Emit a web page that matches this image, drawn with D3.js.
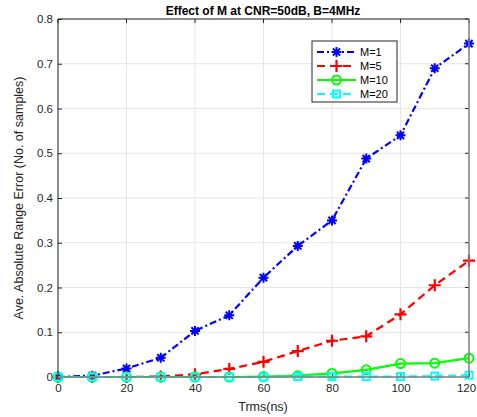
<!DOCTYPE html>
<html>
<head>
<meta charset="utf-8">
<script src="https://cdn.jsdelivr.net/npm/d3@7"></script>
<style>
  body { margin: 0; background: #fff; }
  text { font-family: "Liberation Sans", Arial, sans-serif; }
</style>
</head>
<body>
<svg id="c" width="477" height="417"></svg>
<script>
const trms = [0, 10, 20, 30, 40, 50, 60, 70, 80, 90, 100, 110, 120];
const m1  = [0, 0.003, 0.019, 0.043, 0.103, 0.138, 0.222, 0.293, 0.35, 0.488, 0.54, 0.69, 0.745];
const m5  = [0, 0, 0, 0.001, 0.006, 0.018, 0.034, 0.058, 0.081, 0.091, 0.14, 0.205, 0.26];
const m10 = [0, 0, 0, 0, 0, 0, 0.001, 0.003, 0.008, 0.016, 0.03, 0.031, 0.042];
const m20 = [0, 0, 0, 0, 0, 0, 0, 0.001, 0.001, 0.001, 0.001, 0.002, 0.004];
const xTicks = [0, 20, 40, 60, 80, 100, 120];
const yTicks = [0, 0.1, 0.2, 0.3, 0.4, 0.5, 0.6, 0.7, 0.8];

const series = [
  { name: "M=1",  values: m1,  color: "#0000ff", dash: "7,3,2,3", marker: "star" },
  { name: "M=5",  values: m5,  color: "#ff0000", dash: "8,5",     marker: "plus" },
  { name: "M=10", values: m10, color: "#00ff00", dash: null,      marker: "circle" },
  { name: "M=20", values: m20, color: "#00ffff", dash: "8,5",     marker: "square" }
];

const svg = d3.select("#c");
const L = 58, R = 469, T = 19, B = 377;

const x = d3.scaleLinear().domain([0, 120]).range([L, R]);
const y = d3.scaleLinear().domain([0, 0.8]).range([B, T]);

// grid
svg.append("g").selectAll("line").data(xTicks).join("line")
  .attr("x1", d => x(d)).attr("x2", d => x(d)).attr("y1", T).attr("y2", B)
  .attr("stroke", "#e6e6e6");
svg.append("g").selectAll("line").data(yTicks).join("line")
  .attr("y1", d => y(d)).attr("y2", d => y(d)).attr("x1", L).attr("x2", R)
  .attr("stroke", "#e6e6e6");

// axes
const xAxis = d3.axisBottom(x).tickValues(xTicks).tickSize(-4).tickPadding(7);
const yAxis = d3.axisLeft(y).tickValues(yTicks).tickSize(-4).tickPadding(5)
  .tickFormat(d => d === 0 ? "0" : d3.format(".1f")(d));

const gx = svg.append("g").attr("transform", `translate(0,${B})`).call(xAxis);
const gy = svg.append("g").attr("transform", `translate(${L},0)`).call(yAxis);
[gx, gy].forEach(g => {
  g.select(".domain").remove();
  g.selectAll("line").attr("stroke", "#262626");
  g.selectAll("text").attr("fill", "#262626").attr("font-size", 11.5);
});
// keep the last x label inside the window
gx.selectAll(".tick text").filter(d => d === 120).attr("dx", -3);
// ticks on top and right
svg.append("g").selectAll("line").data(xTicks).join("line")
  .attr("x1", d => x(d)).attr("x2", d => x(d)).attr("y1", T).attr("y2", T + 4)
  .attr("stroke", "#262626");
svg.append("g").selectAll("line").data(yTicks).join("line")
  .attr("y1", d => y(d)).attr("y2", d => y(d)).attr("x1", R).attr("x2", R - 4)
  .attr("stroke", "#262626");

// lines
const line = d3.line().x((d, i) => x(trms[i])).y(d => y(d));

function drawMarker(g, type, color) {
  if (type === "star") {
    const s = 5;
    g.append("path").attr("d", `M${-s},0H${s}M0,${-s}V${s}M${-s*0.72},${-s*0.72}L${s*0.72},${s*0.72}M${-s*0.72},${s*0.72}L${s*0.72},${-s*0.72}`)
      .attr("stroke", color).attr("stroke-width", 2).attr("fill", "none");
  } else if (type === "plus") {
    const s = 6;
    g.append("path").attr("d", `M${-s},0H${s}M0,${-s}V${s}`)
      .attr("stroke", color).attr("stroke-width", 2.2).attr("fill", "none");
  } else if (type === "circle") {
    g.append("circle").attr("r", 4.5).attr("stroke", color).attr("stroke-width", 2).attr("fill", "none");
  } else {
    g.append("rect").attr("x", -3.5).attr("y", -3.5).attr("width", 7).attr("height", 7)
      .attr("stroke", color).attr("stroke-width", 2).attr("fill", "none");
  }
}

series.forEach(s => {
  svg.append("path").datum(s.values)
    .attr("d", line)
    .attr("fill", "none")
    .attr("stroke", s.color)
    .attr("stroke-width", 2.2)
    .attr("stroke-dasharray", s.dash);
  s.values.forEach((v, i) => {
    const g = svg.append("g").attr("transform", `translate(${x(trms[i])},${y(v)})`);
    drawMarker(g, s.marker, s.color);
  });
});

// box
svg.append("line").attr("x1", L).attr("x2", R).attr("y1", T).attr("y2", T).attr("stroke", "#262626");
svg.append("line").attr("x1", L).attr("x2", L).attr("y1", T).attr("y2", B).attr("stroke", "#262626");
svg.append("line").attr("x1", R).attr("x2", R).attr("y1", T).attr("y2", B).attr("stroke", "#808080").attr("stroke-width", 1.5);
svg.append("line").attr("x1", L).attr("x2", R).attr("y1", B).attr("y2", B).attr("stroke", "#808080").attr("stroke-width", 1.5);

// legend
const lg = svg.append("g").attr("transform", "translate(312,41)");
lg.append("rect").attr("width", 85).attr("height", 61).attr("fill", "#fff").attr("stroke", "#262626");
series.forEach((s, i) => {
  const yy = 11 + i * 14;
  lg.append("line").attr("x1", 5).attr("x2", 44).attr("y1", yy).attr("y2", yy)
    .attr("stroke", s.color).attr("stroke-width", 2.2).attr("stroke-dasharray", s.dash);
  const g = lg.append("g").attr("transform", `translate(24.5,${yy})`);
  drawMarker(g, s.marker, s.color);
  lg.append("text").attr("x", 48).attr("y", yy + 4).attr("font-size", 11).attr("fill", "#000").text(s.name);
});

// labels
svg.append("text").attr("x", 263).attr("y", 15).attr("text-anchor", "middle")
  .attr("font-size", 12).attr("font-weight", "bold").attr("fill", "#000")
  .text("Effect of M at CNR=50dB, B=4MHz");
svg.append("text").attr("x", 263).attr("y", 411).attr("text-anchor", "middle")
  .attr("font-size", 12.5).attr("fill", "#262626").text("Trms(ns)");
svg.append("text").attr("transform", `translate(23,${(T + B) / 2}) rotate(-90)`)
  .attr("text-anchor", "middle").attr("font-size", 12.5).attr("fill", "#262626")
  .text("Ave. Absolute Range Error (No. of samples)");
</script>
</body>
</html>
